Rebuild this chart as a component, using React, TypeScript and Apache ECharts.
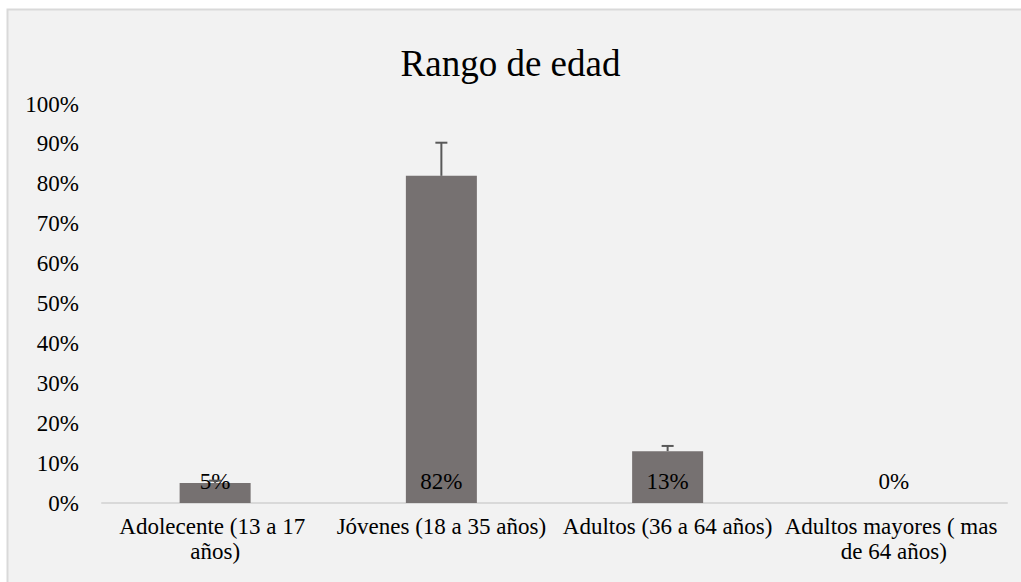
import React, { useEffect, useRef } from "react";
import * as echarts from "echarts";

const categories = [
  "Adolecente (13 a 17 años)",
  "Jóvenes (18 a 35 años)",
  "Adultos (36 a 64 años)",
  "Adultos mayores ( mas de 64 años)",
];
const values = [5, 82, 13, 0];
const errors = [0.6, 8.3, 1.3, 0];
const yTicks = [0, 10, 20, 30, 40, 50, 60, 70, 80, 90, 100];

export default function App() {
  const ref = useRef<HTMLDivElement>(null);
  useEffect(() => {
    const chart = echarts.init(ref.current!, null, { renderer: "svg" });
    const font = "'Liberation Serif', 'Times New Roman', serif";
    chart.setOption({
      animation: false,
      backgroundColor: "#ffffff",
      graphic: [
        {
          type: "rect",
          shape: { x: 7.5, y: 9.5, width: 1020, height: 580 },
          style: { fill: "#f2f2f2", stroke: "#d9d9d9", lineWidth: 2 },
          z: -10,
          silent: true,
        },
      ],
      title: {
        text: "Rango de edad",
        left: "center",
        top: 40,
        textStyle: { fontFamily: font, fontSize: 37, fontWeight: "normal", color: "#000" },
      },
      grid: { left: 102, right: 14, top: 104, bottom: 79 },
      xAxis: {
        type: "category",
        data: categories,
        axisLine: { lineStyle: { color: "#d9d9d9", width: 2 } },
        axisTick: { show: false },
        axisLabel: {
          fontFamily: font,
          fontSize: 23,
          color: "#000",
          interval: 0,
          margin: 11,
          width: 238,
          overflow: "break",
          lineHeight: 25,
        },
      },
      yAxis: {
        type: "value",
        min: 0,
        max: 100,
        interval: 10,
        splitLine: { show: false },
        axisLine: { show: false },
        axisTick: { show: false },
        axisLabel: {
          fontFamily: font,
          fontSize: 23,
          color: "#000",
          margin: 23,
          formatter: (v: number) => (yTicks.includes(v) ? v + "%" : ""),
        },
      },
      series: [
        {
          type: "bar",
          data: values,
          barWidth: 71,
          itemStyle: { color: "#767171" },
          label: {
            show: true,
            position: "insideBottom",
            distance: 10,
            formatter: (p: any) => p.value + "%",
            fontFamily: font,
            fontSize: 23,
            color: "#000",
          },
          z: 2,
        },
        {
          type: "custom",
          z: 3,
          data: values.map((v, i) => [i, v, v + errors[i]]),
          renderItem: (params: any, api: any) => {
            const idx = api.value(0);
            const base = api.coord([idx, api.value(1)]);
            const top = api.coord([idx, api.value(2)]);
            if (Math.abs(base[1] - top[1]) < 0.5) return { type: "group", children: [] };
            const style = { stroke: "#595959", lineWidth: 2, fill: "none" };
            return {
              type: "group",
              children: [
                { type: "line", shape: { x1: base[0], y1: base[1], x2: top[0], y2: top[1] }, style },
                { type: "line", shape: { x1: top[0] - 6, y1: top[1], x2: top[0] + 6, y2: top[1] }, style },
              ],
            };
          },
        },
      ],
    });
    return () => chart.dispose();
  }, []);
  return (
    <div
      ref={ref}
      style={{ position: "absolute", left: 0, top: 0, width: 1021, height: 582 }}
    />
  );
}
